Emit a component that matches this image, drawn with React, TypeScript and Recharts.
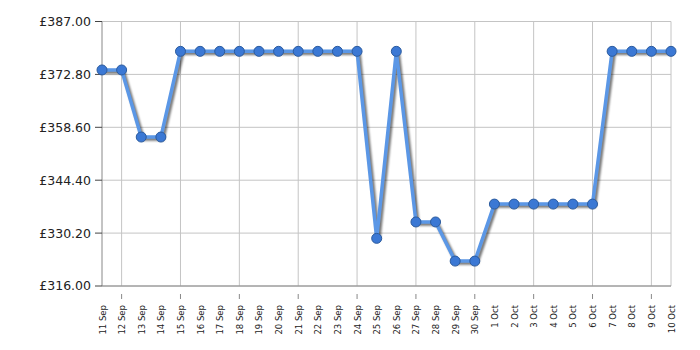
import React from "react";
import {
  LineChart,
  Line,
  XAxis,
  YAxis,
  CartesianGrid,
  ReferenceLine,
} from "recharts";

const dates = [
  "11 Sep", "12 Sep", "13 Sep", "14 Sep", "15 Sep", "16 Sep", "17 Sep", "18 Sep",
  "19 Sep", "20 Sep", "21 Sep", "22 Sep", "23 Sep", "24 Sep", "25 Sep", "26 Sep",
  "27 Sep", "28 Sep", "29 Sep", "30 Sep", "1 Oct", "2 Oct", "3 Oct", "4 Oct",
  "5 Oct", "6 Oct", "7 Oct", "8 Oct", "9 Oct", "10 Oct",
];

const prices = [
  373.99, 373.99, 355.99, 355.99, 378.99, 378.99, 378.99, 378.99,
  378.99, 378.99, 378.99, 378.99, 378.99, 378.99, 328.79, 378.99,
  333.19, 333.19, 322.69, 322.69, 337.99, 337.99, 337.99, 337.99,
  337.99, 337.99, 378.99, 378.99, 378.99, 378.99,
];

const yTicks = [316.0, 330.2, 344.4, 358.6, 372.8, 387.0];

// dates that get a vertical grid line and a tick mark
const gridDates = [
  "12 Sep", "15 Sep", "18 Sep", "21 Sep", "24 Sep", "27 Sep",
  "30 Sep", "3 Oct", "6 Oct", "9 Oct", "10 Oct",
];

const data = dates.map((d, i) => ({ date: d, price: prices[i] }));

const FONT = "'DejaVu Sans', Verdana, sans-serif";

function DateTick(props: any) {
  const { x, y, payload } = props;
  const marked = gridDates.includes(payload.value) && payload.value !== "10 Oct";
  return (
    <g>
      {marked && <line x1={x} y1={y} x2={x} y2={y + 5} stroke="#888" />}
      <text
        x={x + 3.5}
        y={y + 11}
        transform={`rotate(-90, ${x + 3.5}, ${y + 11})`}
        textAnchor="end"
        fontSize={8.5}
        fontFamily={FONT}
        fill="#222"
      >
        {payload.value}
      </text>
    </g>
  );
}

export default function App() {
  return (
    <div style={{ width: 692, height: 334 }}>
      <style>{`.price-line .recharts-line-curve, .price-line .recharts-line-dots { filter: drop-shadow(2px 2px 1px rgba(0,0,0,0.55)); }`}</style>
      <LineChart
        width={692}
        height={334}
        data={data}
        margin={{ top: 13.5, right: 29, bottom: 0, left: 0 }}
      >
        <CartesianGrid vertical={false} stroke="#c4c4c4" />
        {gridDates.map((d) => (
          <ReferenceLine key={d} x={d} stroke="#c4c4c4" />
        ))}
        <XAxis
          dataKey="date"
          interval={0}
          height={56}
          tick={<DateTick />}
          tickLine={false}
          axisLine={{ stroke: "#888" }}
        />
        <YAxis
          width={94}
          domain={[316, 387]}
          ticks={yTicks}
          tickFormatter={(v: number) => `£${v.toFixed(2)}`}
          tickSize={7}
          tickMargin={4}
          tickLine={{ stroke: "#444" }}
          axisLine={{ stroke: "#888" }}
          tick={{ fontSize: 12.5, fontFamily: FONT, fill: "#222" }}
        />
        <Line
          className="price-line"
          type="linear"
          dataKey="price"
          stroke="#5b97e6"
          strokeWidth={3.5}
          dot={{ r: 5, fill: "#3b78d4", stroke: "#2b5b9e", strokeWidth: 1 }}
          isAnimationActive={false}
        />
      </LineChart>
    </div>
  );
}
